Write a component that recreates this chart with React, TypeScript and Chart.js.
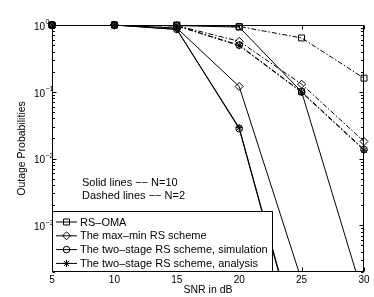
import React, { useEffect, useRef } from 'react';
import { Chart, registerables } from 'chart.js';
import { drawPoint } from 'chart.js/helpers';

Chart.register(...registerables);

const snr = [5, 10, 15, 20, 25, 30];
// N = 10 (solid lines)
const omaN10 = [1, 1, 0.98, 0.93, 0.1, 8e-5];
const maxMinN10 = [1, 1, 0.9, 0.12, 1.5e-4, 1e-7];
const simN10 = [1, 1, 0.86, 0.028, 1.1e-5, 1e-9];
const anaN10 = [1, 1, 0.86, 0.029, 1.2e-5, 1e-9];
// N = 2 (dash-dot lines)
const omaN2 = [1, 1, 1, 0.95, 0.64, 0.16];
const maxMinN2 = [1, 1, 0.98, 0.57, 0.13, 0.018];
const simN2 = [1, 1, 0.97, 0.5, 0.1, 0.0137];
const anaN2 = [1, 1, 0.97, 0.49, 0.098, 0.0133];

const legendLabels = [
  'RS\u2013OMA',
  'The max\u2013min RS scheme',
  'The two\u2013stage RS scheme, simulation',
  'The two\u2013stage RS scheme, analysis',
];
const markerStyles = ['rect', 'rectRot', 'circle', 'star'];
const markerRadii = [4.2, 4, 3.3, 3.6];
const annotationLines = ['Solid lines \u2212\u2212 N=10', 'Dashed lines \u2212\u2212 N=2'];

const xTicks = [5, 10, 15, 20, 25, 30];
const yTickExponents = [0, -1, -2, -3];
const yMin = 2e-4;
const yMax = 1;
const xTitle = 'SNR in dB';
const yTitle = 'Outage Probabilities';

const FONT = '"Liberation Sans", Arial, Helvetica, sans-serif';
const DASH_DOT = [5, 2, 1.5, 2];
const LINE_COUNT = 8;

function lineDataset(values: number[], dashed: boolean) {
  return {
    data: values.map((v, i) => ({ x: snr[i], y: v })),
    borderColor: '#000',
    borderWidth: 1,
    borderDash: dashed ? DASH_DOT : [],
    pointRadius: 0,
    fill: false,
    tension: 0,
    clip: 0,
  };
}

function markerDataset(values: number[], idx: number) {
  return {
    data: values
      .map((v, i) => ({ x: snr[i], y: v }))
      .filter((p) => p.y >= yMin && p.y <= yMax),
    showLine: false,
    pointStyle: markerStyles[idx],
    pointRadius: markerRadii[idx],
    pointBorderColor: '#000',
    pointBackgroundColor: 'rgba(0,0,0,0)',
    pointBorderWidth: 1,
    clip: false,
  };
}

const framePlugin = {
  id: 'matlabFrame',
  beforeDatasetsDraw(chart: any) {
    const { ctx } = chart;
    ctx.save();
    ctx.fillStyle = '#fff';
    ctx.fillRect(0, 0, chart.width, chart.height);
    ctx.restore();
  },
  beforeDatasetDraw(chart: any, args: any) {
    if (args.index < LINE_COUNT) {
      const { ctx, chartArea: a } = chart;
      ctx.save();
      ctx.beginPath();
      ctx.rect(a.left, a.top, a.right - a.left, a.bottom - a.top);
      ctx.clip();
    }
  },
  afterDatasetDraw(chart: any, args: any) {
    if (args.index < LINE_COUNT) {
      chart.ctx.restore();
    }
  },
  afterDatasetsDraw(chart: any) {
    const { ctx, chartArea: a, scales } = chart;
    const x = scales.x;
    const y = scales.y;
    const L = Math.round(a.left) + 0.5;
    const R = Math.round(a.right) - 0.5;
    const T = Math.round(a.top) + 0.5;
    const B = Math.round(a.bottom) - 0.5;
    ctx.save();
    ctx.strokeStyle = '#000';
    ctx.lineWidth = 1;
    ctx.setLineDash([]);
    ctx.strokeRect(L, T, R - L, B - T);
    ctx.beginPath();
    for (const v of xTicks) {
      const px = Math.round(x.getPixelForValue(v)) + 0.5;
      ctx.moveTo(px, B);
      ctx.lineTo(px, B - 4);
      ctx.moveTo(px, T);
      ctx.lineTo(px, T + 4);
    }
    for (let e = -4; e <= 0; e++) {
      for (let m = 1; m <= 9; m++) {
        const v = m * Math.pow(10, e);
        if (v < yMin * 0.999 || v > yMax * 1.001) continue;
        const py = Math.round(y.getPixelForValue(v)) + 0.5;
        const len = m === 1 ? 4 : 2.5;
        ctx.moveTo(L, py);
        ctx.lineTo(L + len, py);
        ctx.moveTo(R, py);
        ctx.lineTo(R - len, py);
      }
    }
    ctx.stroke();

    ctx.fillStyle = '#000';
    // x tick labels
    ctx.font = `10px ${FONT}`;
    ctx.textAlign = 'center';
    ctx.textBaseline = 'middle';
    for (const v of xTicks) {
      ctx.fillText(String(v), x.getPixelForValue(v), a.bottom + 8.5);
    }
    // x title
    ctx.font = `10.5px ${FONT}`;
    ctx.fillText(xTitle, (a.left + a.right) / 2, a.bottom + 18);
    // y title
    ctx.save();
    ctx.translate(22, (a.top + a.bottom) / 2);
    ctx.rotate(-Math.PI / 2);
    ctx.fillText(yTitle, 0, 0);
    ctx.restore();

    // y tick labels with superscript exponents
    for (const e of yTickExponents) {
      const py = y.getPixelForValue(Math.pow(10, e));
      ctx.font = `10px ${FONT}`;
      ctx.textAlign = 'right';
      ctx.textBaseline = 'middle';
      const baseX = a.left - 7;
      ctx.fillText('10', baseX, py + 2);
      ctx.font = `7px ${FONT}`;
      ctx.textAlign = 'left';
      ctx.fillText(e === 0 ? '0' : '\u2212' + String(-e), baseX + 0.5, py - 2.5);
    }
    ctx.restore();
  },
  afterDraw(chart: any) {
    const { ctx, chartArea: a } = chart;
    ctx.save();
    ctx.fillStyle = '#000';
    ctx.font = `11px ${FONT}`;
    ctx.textAlign = 'left';
    ctx.textBaseline = 'middle';
    annotationLines.forEach((t, i) => {
      ctx.fillText(t, a.left + 30, 183 + i * 12.5);
    });

    // legend box
    const bx = Math.round(a.left) + 0.5;
    const by = 211.5;
    const bw = 220;
    const bh = Math.round(a.bottom) - 0.5 - by;
    ctx.fillStyle = '#fff';
    ctx.fillRect(bx, by, bw, bh);
    ctx.strokeStyle = '#000';
    ctx.lineWidth = 1;
    ctx.setLineDash([]);
    ctx.strokeRect(bx, by, bw, bh);
    legendLabels.forEach((label, i) => {
      const yy = 222 + i * 13.8;
      ctx.strokeStyle = '#000';
      ctx.lineWidth = 1;
      ctx.beginPath();
      ctx.moveTo(a.left + 4, yy);
      ctx.lineTo(a.left + 25, yy);
      ctx.stroke();
      ctx.fillStyle = 'rgba(0,0,0,0)';
      drawPoint(ctx, { pointStyle: markerStyles[i], radius: markerRadii[i], rotation: 0, borderWidth: 1 } as any, a.left + 14.5, yy);
      ctx.fillStyle = '#000';
      ctx.font = `11px ${FONT}`;
      ctx.textAlign = 'left';
      ctx.textBaseline = 'middle';
      ctx.fillText(label, a.left + 28, yy + 0.5);
    });
    ctx.restore();
  },
};

export default function App() {
  const canvasRef = useRef<HTMLCanvasElement | null>(null);

  useEffect(() => {
    document.body.style.margin = '0';
    const canvas = canvasRef.current;
    if (!canvas) return;
    const series = [omaN10, maxMinN10, simN10, anaN10, omaN2, maxMinN2, simN2, anaN2];
    const datasets: any[] = [];
    series.forEach((s, i) => datasets.push(lineDataset(s, i >= 4)));
    series.forEach((s, i) => datasets.push(markerDataset(s, i % 4)));
    const chart = new Chart(canvas, {
      type: 'line',
      data: { datasets },
      options: {
        animation: false,
        responsive: false,
        devicePixelRatio: 1,
        layout: { padding: { top: 25, right: 10, left: 52, bottom: 25 } },
        plugins: {
          legend: { display: false },
          tooltip: { enabled: false },
        },
        scales: {
          x: { type: 'linear', min: 5, max: 30, display: false },
          y: { type: 'logarithmic', min: yMin, max: yMax, display: false },
        },
      } as any,
      plugins: [framePlugin],
    });
    return () => chart.destroy();
  }, []);

  return (
    <div style={{ width: 374, height: 297 }}>
      <canvas ref={canvasRef} width={374} height={297} style={{ display: 'block' }} />
    </div>
  );
}
